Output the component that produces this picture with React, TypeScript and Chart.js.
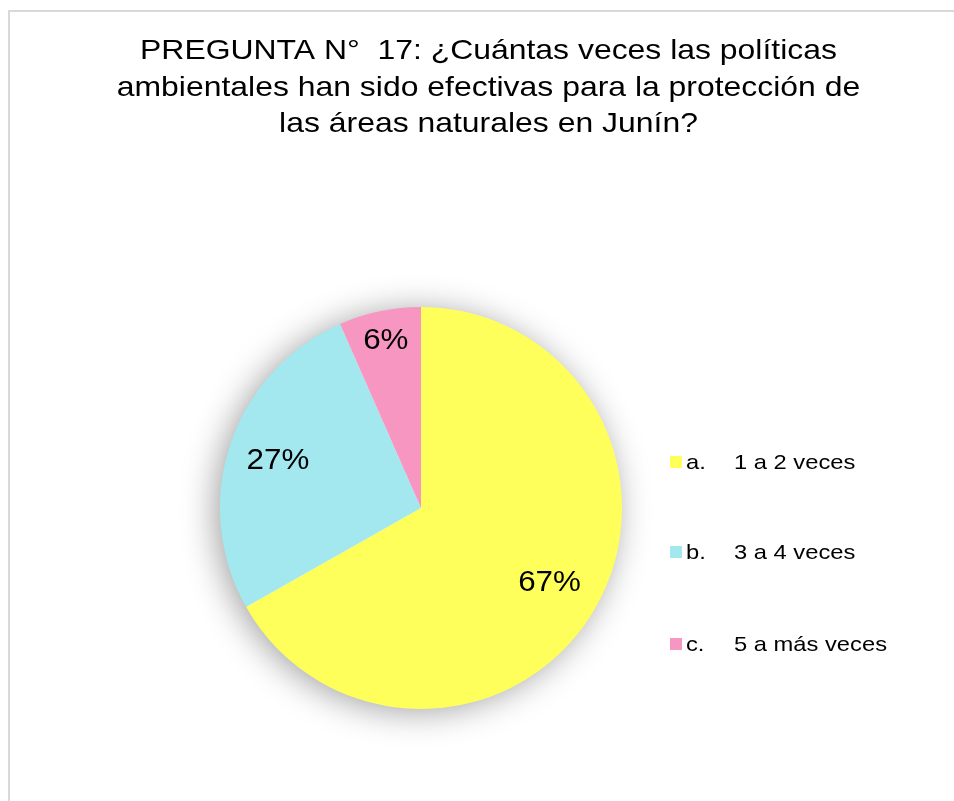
import React, { useEffect, useRef } from "react";
import { Chart, registerables } from "chart.js";

Chart.register(...registerables);

const titleLines = [
  "PREGUNTA N°  17: ¿Cuántas veces las políticas",
  "ambientales han sido efectivas para la protección de",
  "las áreas naturales en Junín?",
];
const categories = ["a.", "b.", "c."];
const categoryTexts = ["1 a 2 veces", "3 a 4 veces", "5 a más veces"];
const values = [66.8, 26.6, 6.6];
const valueLabels = ["67%", "27%", "6%"];
const colors = ["#FFFF5B", "#A2E8EE", "#F796C1"];
const labelRadiusFrac = [0.74, 0.75, 0.85];

export default function App() {
  const ref = useRef<HTMLCanvasElement | null>(null);
  useEffect(() => {
    document.body.style.margin = "0";
    const canvas = ref.current!;
    const font = "'Liberation Sans', Arial, sans-serif";

    const stretchText = (ctx: any, text: string, x: number, y: number, sx: number) => {
      ctx.save();
      ctx.translate(x, y);
      ctx.scale(sx, 1);
      ctx.fillText(text, 0, 0);
      ctx.restore();
    };

    const decor = {
      id: "decor",
      beforeDraw(chart: any) {
        const ctx = chart.ctx;
        ctx.save();
        ctx.fillStyle = "#ffffff";
        ctx.fillRect(0, 0, chart.width, chart.height);
        ctx.fillStyle = "#d9d9d9";
        ctx.fillRect(8, 10, chart.width - 8, 2);
        ctx.fillRect(8, 10, 2, chart.height - 10);
        ctx.restore();
      },
      beforeDatasetsDraw(chart: any) {
        const meta = chart.getDatasetMeta(0);
        const a = meta.data[0];
        if (!a) return;
        const ctx = chart.ctx;
        ctx.save();
        ctx.shadowColor = "rgba(0,0,0,0.38)";
        ctx.shadowBlur = 34;
        ctx.shadowOffsetX = -5;
        ctx.shadowOffsetY = 3;
        ctx.fillStyle = "#ffffff";
        ctx.beginPath();
        ctx.arc(a.x, a.y, a.outerRadius - 1, 0, Math.PI * 2);
        ctx.fill();
        ctx.restore();
      },
      afterDraw(chart: any) {
        const ctx = chart.ctx;
        ctx.save();
        ctx.fillStyle = "#000000";
        ctx.textAlign = "center";
        ctx.textBaseline = "middle";
        ctx.font = `28px ${font}`;
        titleLines.forEach((t, i) => stretchText(ctx, t, 488.5, 51 + i * 36.8, 1.14));

        const meta = chart.getDatasetMeta(0);
        ctx.font = `29px ${font}`;
        meta.data.forEach((arc: any, i: number) => {
          const mid = (arc.startAngle + arc.endAngle) / 2;
          const r = arc.outerRadius * labelRadiusFrac[i];
          stretchText(ctx, valueLabels[i], arc.x + Math.cos(mid) * r, arc.y + Math.sin(mid) * r, 1.08);
        });

        ctx.textAlign = "left";
        ctx.font = `21px ${font}`;
        const ys = [462, 552, 644];
        categories.forEach((c, i) => {
          ctx.fillStyle = colors[i];
          ctx.fillRect(670, ys[i] - 6, 12, 12);
          ctx.fillStyle = "#000000";
          stretchText(ctx, c, 686, ys[i] + 1, 1.13);
          stretchText(ctx, categoryTexts[i], 734, ys[i] + 1, 1.13);
        });
        ctx.restore();
      },
    };

    const chart = new Chart(canvas, {
      type: "pie",
      data: {
        labels: categoryTexts.map((t, i) => categories[i] + " " + t),
        datasets: [
          {
            data: values,
            backgroundColor: colors,
            borderWidth: 0,
          },
        ],
      },
      options: {
        animation: false,
        responsive: false,
        layout: { padding: { left: 220, right: 332, top: 307, bottom: 92 } },
        plugins: {
          legend: { display: false },
          title: { display: false },
          tooltip: { enabled: false },
        },
      },
      plugins: [decor],
    });
    return () => chart.destroy();
  }, []);
  return <canvas ref={ref} width={954} height={801} style={{ display: "block" }} />;
}
